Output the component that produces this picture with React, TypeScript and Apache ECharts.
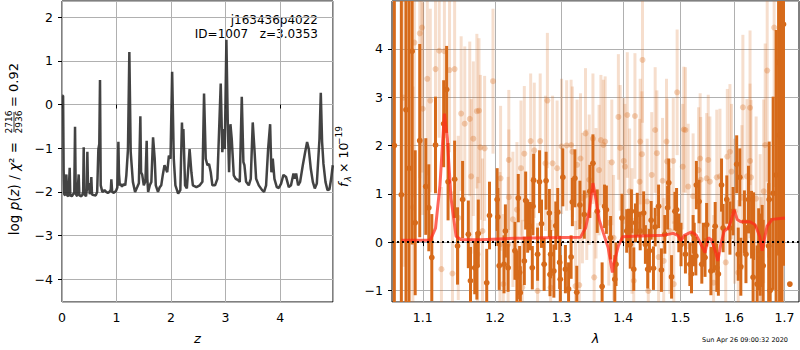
import React, { useEffect, useRef } from "react";
import * as echarts from "echarts";

const FF = '"DejaVu Sans", "Liberation Sans", sans-serif';

// ---- left panel: log p(z) ----
const zGrid = [0.004,0.02,0.03,0.04,0.06,0.08,0.095,0.12,0.141,0.152,0.18,0.2,0.225,0.239,0.252,0.28,0.306,0.318,0.34,0.37,0.388,0.398,0.41,0.44,0.455,0.465,0.478,0.49,0.51,0.525,0.538,0.55,0.58,0.62,0.645,0.667,0.684,0.697,0.71,0.74,0.78,0.81,0.84,0.87,0.895,0.905,0.92,0.95,0.99,1.015,1.034,1.045,1.06,1.08,1.1,1.13,1.16,1.18,1.21,1.235,1.26,1.3,1.34,1.38,1.41,1.437,1.45,1.47,1.5,1.53,1.553,1.565,1.58,1.61,1.639,1.67,1.7,1.72,1.76,1.79,1.82,1.85,1.88,1.93,1.96,1.99,2.02,2.05,2.08,2.13,2.17,2.2,2.212,2.226,2.257,2.29,2.34,2.373,2.4,2.465,2.526,2.575,2.605,2.636,2.667,2.697,2.728,2.758,2.807,2.85,2.88,2.911,2.94,2.966,2.985,3.015,3.04,3.064,3.089,3.113,3.15,3.187,3.23,3.26,3.297,3.327,3.346,3.376,3.425,3.462,3.498,3.529,3.56,3.609,3.67,3.706,3.743,3.78,3.817,3.84,3.865,3.896,3.939,3.976,4.018,4.061,4.11,4.159,4.2,4.245,4.27,4.294,4.33,4.367,4.416,4.459,4.495,4.526,4.563,4.6,4.636,4.673,4.722,4.746,4.77,4.795,4.832,4.869,4.905,4.936,4.966];
const logPz = [0.2,0.2,-1.5,-2.05,-2.08,-1.6,-2.08,-2.1,-1.45,-2.08,-2.1,-2.06,-2.02,-0.51,-2.05,-2.1,-1.6,-2.06,-2.1,-2.08,-2.0,-0.98,-2.05,-2.1,-1.95,-1.08,-1.95,-1.8,-2.05,-2.0,-1.66,-2.06,-2.07,-2.08,-2.0,-1.02,-0.9,0.56,-1.85,-2.0,-1.96,-2.0,-2.02,-2.0,-1.95,-1.71,-2.0,-2.02,-1.98,-1.9,-0.85,-1.58,-1.85,-1.82,-1.88,-1.82,-1.85,-1.62,-1.02,1.2,-1.09,-1.77,-2.0,-1.89,-1.8,-0.27,-1.55,-1.6,-1.85,-1.75,-0.83,-1.7,-2.0,-1.85,-1.77,-0.75,-1.24,-1.85,-2.0,-1.9,-1.85,-1.6,-1.39,-1.55,-1.17,-1.24,0.75,-1.24,-1.85,-2.04,-1.96,-0.41,-0.9,-0.56,-1.85,-1.92,-1.02,-1.55,-1.85,-1.89,-1.85,-1.77,0.25,-1.24,-1.39,-1.36,-1.55,-1.85,-1.85,-1.7,-0.64,0.48,-1.09,-0.56,-1.02,1.48,-0.41,-1.55,-0.45,-0.79,-1.62,-1.7,-1.73,-1.77,0.18,-1.32,-1.39,-1.77,-1.85,-1.7,-0.41,-1.02,-1.7,-1.85,-1.96,-2.0,-1.85,-1.02,-0.45,-1.55,-1.24,-1.7,-1.89,-1.91,-1.81,-1.61,-1.66,-1.89,-1.85,-1.58,-1.7,-1.58,-1.85,-1.77,-1.39,-1.09,-0.86,-1.02,-1.47,-1.77,-1.92,-1.81,-0.79,0.27,-0.86,-1.36,-1.77,-1.96,-1.94,-1.7,-1.39];

// ---- right panel: spectrum ----
const lamTicks = [1.1, 1.2, 1.3, 1.4, 1.5, 1.6, 1.7];
const lamMin = 1.06;
const lamMax = 1.73;

const darkLam = [1.063,1.072,1.078,1.082,1.086,1.09,1.096,1.104,1.108,1.112,1.117,1.128,1.132,1.134,1.143,1.147,1.154,1.162,1.165,1.174,1.176,1.188,1.192,1.203,1.204,1.213,1.229,1.236,1.237,1.245,1.248,1.252,1.256,1.263,1.266,1.269,1.273,1.276,1.283,1.288,1.294,1.297,1.302,1.306,1.311,1.317,1.321,1.324,1.329,1.336,1.345,1.35,1.357,1.365,1.369,1.372,1.379,1.386,1.388,1.398,1.406,1.409,1.412,1.418,1.421,1.424,1.429,1.435,1.438,1.445,1.448,1.452,1.455,1.466,1.472,1.477,1.479,1.484,1.49,1.493,1.497,1.501,1.509,1.517,1.52,1.525,1.528,1.529,1.534,1.539,1.542,1.545,1.548,1.556,1.561,1.564,1.57,1.576,1.579,1.592,1.598,1.605,1.608,1.611,1.613,1.62,1.623,1.628,1.637,1.638,1.645,1.648,1.655,1.657,1.668,1.671,1.677,1.683,1.688,1.69,1.695,1.698,1.711,
  1.171,1.206,1.215,1.219,1.232,1.234,1.243,1.255,1.257,1.281,1.282,1.291,1.298,1.315,1.414,1.442,1.461,1.523,1.567,1.586,1.634,1.651,1.669];
const darkFlux = [2.0,0.98,2.74,1.53,3.95,0.4,2.1,1.15,0.71,-0.32,2.01,2.45,3.16,1.25,1.3,-0.08,0.88,0.16,-0.8,-0.49,0.18,-0.84,0.55,0.88,0.52,-0.46,-0.18,-0.63,-1.05,0.86,0.33,0.33,0.74,-0.25,1.25,0.38,-0.46,1.27,-0.25,-0.6,0.62,-0.42,1.34,-0.56,-0.97,0.83,1.32,-1.04,0.77,0.57,1.05,1.63,0.64,-0.92,0.74,0.67,0.09,-0.77,-0.46,0.5,0.23,0.29,-0.05,-0.56,0.4,0.57,0.23,0.6,-0.05,-0.18,0.45,-0.54,0.31,-0.58,0.16,0.71,1.23,-0.72,0.64,0.67,0.19,-0.05,-0.25,-0.46,-0.66,-0.05,-0.29,1.18,0.84,-0.46,-0.05,-0.32,0.36,-0.6,-0.18,0.33,-0.66,1.18,0.29,0.29,0.64,1.61,-0.25,1.34,-0.51,0.42,-0.25,0.88,-0.73,0.33,-0.87,-0.15,-0.08,-0.49,-0.08,-1.0,1.01,1.39,3.72,2.21,2.2,4.51,-0.87,
  -0.53,-0.49,0.23,-0.53,-0.73,0.91,-0.39,-0.53,1.28,0.6,-0.67,0.34,-0.77,-0.31,0.64,-0.56,0.74,0.16,-0.53,0.88,0.36,-0.26,0.88];
const darkErr = [8,6,5,6,4,1.5,2.0,1.0,0.9,0.9,1.0,0.9,0.9,0.8,0.8,0.8,0.8,0.7,0.7,0.7,0.7,0.7,0.7,0.65,0.6,0.6,0.6,0.55,0.55,0.6,0.55,0.5,0.6,0.55,0.65,0.5,0.55,0.6,0.5,0.55,0.5,0.55,0.6,0.5,0.55,0.5,0.6,0.55,0.5,0.5,0.55,0.6,0.45,0.5,0.45,0.5,0.45,0.5,0.45,0.5,0.45,0.4,0.5,0.45,0.4,0.45,0.4,0.45,0.4,0.45,0.4,0.45,0.4,0.45,0.4,0.45,0.5,0.45,0.4,0.45,0.4,0.45,0.4,0.45,0.4,0.45,0.4,0.5,0.45,0.4,0.45,0.4,0.45,0.5,0.45,0.5,0.45,0.55,0.5,0.55,0.5,0.6,0.55,0.6,0.6,0.65,0.6,0.7,0.75,0.7,0.8,0.85,0.85,0.95,1.3,1.5,2.0,3.0,4.0,4.0,5.0,5.0,0,
  0.55,0.5,0.55,0.5,0.55,0.5,0.5,0.45,0.55,0.5,0.45,0.5,0.5,0.45,0.45,0.4,0.45,0.4,0.5,0.5,0.7,0.85,1.2];

const paleLam = [1.075,1.089,1.096,1.099,1.106,1.11,1.117,1.122,1.129,1.136,1.14,1.143,1.148,1.152,1.157,1.164,1.166,1.169,1.175,1.177,1.179,1.182,1.185,1.197,1.207,1.208,1.219,1.22,1.226,1.232,1.238,1.243,1.258,1.263,1.267,1.278,1.283,1.286,1.293,1.315,1.317,1.328,1.33,1.333,1.338,1.34,1.344,1.35,1.352,1.355,1.36,1.363,1.367,1.376,1.381,1.384,1.392,1.395,1.401,1.403,1.411,1.415,1.418,1.42,1.428,1.432,1.433,1.441,1.443,1.449,1.458,1.461,1.468,1.47,1.475,1.481,1.487,1.488,1.494,1.504,1.506,1.514,1.523,1.533,1.537,1.551,1.554,1.561,1.567,1.573,1.584,1.587,1.595,1.601,1.608,1.615,1.617,1.625,1.631,1.633,1.643,1.651,1.653,1.658,1.661,1.665,1.679,1.691,
  1.407,1.455,1.509,1.548,1.592,1.631,1.37,1.308,1.429,1.476,1.536,1.1,1.174,1.125,1.087,1.22,1.2525,1.275,1.3,1.322,1.212,1.24,1.3245];
const paleFlux = [2.99,4.13,4.32,4.44,3.38,2.93,3.58,3.96,3.95,3.56,-0.65,3.58,0.5,2.66,2.45,2.55,1.36,2.14,-0.25,2.72,1.96,0.23,1.94,3.33,-0.05,1.32,-0.05,0.93,0.47,0.67,1.53,1.83,1.9,-1.01,2.09,2.93,-0.94,1.63,1.53,2.01,1.87,-0.89,1.73,0.91,2.25,0.98,1.29,2.14,-0.73,1.01,1.49,2.11,2.01,0.4,1.65,0.09,2.59,1.95,1.68,1.56,1.05,0.23,-0.8,2.61,1.25,1.82,3.77,0.84,-1.01,1.39,1.84,-0.31,1.27,-0.39,2.08,0.23,1.68,-0.87,3.1,1.56,2.33,1.15,0.95,1.49,1.29,1.7,1.25,-0.84,1.34,1.36,-0.42,1.77,1.46,0.64,-0.63,0.92,2.79,1.36,1.68,1.34,0.9,0.02,-0.87,1.05,2.01,3.55,4.44,3.65,
  2.63,2.32,2.32,1.32,1.87,2.78,2.08,2.0,2.08,1.67,1.73,2.76,2.71,-0.56,0.72,1.7,2.09,1.63,1.98,-0.91,-0.87,-0.94,1.6];
const paleErr = [3.5,3.2,3.0,3.0,2.0,1.9,1.9,1.8,1.8,1.7,1.7,1.7,1.7,1.6,1.6,1.6,1.6,1.6,1.6,1.5,1.5,1.5,1.5,1.5,1.5,1.5,1.4,1.4,1.4,1.4,1.4,1.4,1.4,1.4,1.4,1.4,1.4,1.4,1.4,1.35,1.35,1.35,1.35,1.35,1.35,1.35,1.35,1.35,1.35,1.35,1.35,1.35,1.35,1.3,1.3,1.3,1.3,1.3,1.3,1.3,1.3,1.3,1.3,1.3,1.3,1.3,1.3,1.3,1.3,1.3,1.3,1.3,1.3,1.3,1.3,1.3,1.3,1.3,1.3,1.3,1.3,1.3,1.3,1.3,1.3,1.35,1.35,1.4,1.4,1.4,1.4,1.4,1.4,1.5,1.5,1.5,1.5,1.6,1.6,1.6,1.7,1.8,1.8,1.9,2.1,2.3,3.3,4.3,
  1.3,1.3,1.3,1.35,1.4,1.6,1.35,1.35,1.3,1.3,1.35,2.2,1.6,1.7,2.5,1.45,1.4,1.4,1.4,1.35,1.45,1.4,1.35];

const modelLam = [1.072,1.11,1.117,1.123,1.129,1.133,1.138,1.145,1.152,1.18,1.228,1.278,1.33,1.338,1.344,1.35,1.355,1.36,1.367,1.375,1.382,1.384,1.392,1.399,1.418,1.47,1.487,1.495,1.501,1.507,1.52,1.529,1.539,1.545,1.551,1.557,1.564,1.569,1.574,1.581,1.589,1.595,1.6,1.606,1.613,1.631,1.641,1.65,1.655,1.659,1.665,1.675,1.701];
const modelFlux = [0.04,0.04,0.29,1.18,2.66,2.14,0.91,0.12,0.05,0.05,0.08,0.09,0.1,0.29,0.64,1.22,0.88,0.47,0.19,-0.12,-0.63,-0.46,-0.08,0.11,0.12,0.14,0.18,0.14,0.03,0.14,0.21,0.14,-0.08,-0.22,0.09,0.05,-0.18,-0.39,-0.08,0.23,0.29,0.47,0.67,0.47,0.42,0.42,0.36,0.12,-0.18,0.05,0.33,0.47,0.5];

const ORANGE = "#d66a1a";

const minusFmt = (v: number) => (v < 0 ? "\u2212" + Math.abs(v) : String(v));

function errRender(opacityBar: number, opacityDot: number, r: number) {
  return (params: any, api: any) => {
    const x = api.value(0);
    const y = api.value(1);
    const e = api.value(2);
    const c = api.coord([x, y]);
    const t = api.coord([x, y + e]);
    const b = api.coord([x, y - e]);
    return {
      type: "group",
      children: [
        {
          type: "line",
          shape: { x1: c[0], y1: t[1], x2: c[0], y2: b[1] },
          style: { stroke: ORANGE, lineWidth: 3, opacity: opacityBar },
        },
        {
          type: "circle",
          shape: { cx: c[0], cy: c[1], r },
          style: { fill: ORANGE, opacity: opacityDot },
        },
      ],
    };
  };
}

export default function App() {
  const ref = useRef<HTMLDivElement>(null);
  useEffect(() => {
    if (!ref.current) return;
    const chart = echarts.init(ref.current, undefined, { renderer: "svg" });
    const axisLabel = { color: "#000", fontSize: 12.5, fontFamily: FF };
    const tick = { show: true, length: 4, lineStyle: { color: "#000", width: 1 } };
    const split = { show: true, lineStyle: { color: "#b0b0b0", width: 1 } };
    const lnTicks = lamTicks.map((l) => Math.log(l));
    const option: any = {
      animation: false,
      backgroundColor: "#fff",
      grid: [
        { left: 62, top: 1, width: 271, height: 303, show: true, borderColor: "#000", borderWidth: 1, backgroundColor: "transparent" },
        { left: 392, top: 1, width: 407, height: 303, show: true, borderColor: "#000", borderWidth: 1, backgroundColor: "transparent" },
      ],
      xAxis: [
        {
          gridIndex: 0, type: "value", min: 0, max: 4.97,
          name: "z", nameLocation: "middle", nameGap: 30,
          nameTextStyle: { color: "#000", fontSize: 13, fontStyle: "italic", fontFamily: FF },
          axisLine: { show: false }, axisTick: tick, splitLine: split,
          axisLabel: { ...axisLabel, margin: 9, showMaxLabel: false, formatter: minusFmt },
        },
        {
          gridIndex: 1, type: "value", min: Math.log(lamMin), max: Math.log(lamMax),
          name: "λ", nameLocation: "middle", nameGap: 30,
          nameTextStyle: { color: "#000", fontSize: 13, fontStyle: "italic", fontFamily: FF },
          axisLine: { show: false },
          axisTick: { ...tick, customValues: lnTicks },
          splitLine: split,
          axisLabel: { ...axisLabel, margin: 9, customValues: lnTicks, formatter: (v: number) => Math.exp(v).toFixed(1) },
        },
      ],
      yAxis: [
        {
          gridIndex: 0, type: "value", min: -4.52, max: 2.37,
          axisLine: { show: false }, axisTick: tick, splitLine: split,
          axisLabel: { ...axisLabel, margin: 9, showMinLabel: false, showMaxLabel: false, formatter: minusFmt },
        },
        {
          gridIndex: 1, type: "value", min: -1.24, max: 4.99,
          axisLine: { show: false }, axisTick: tick, splitLine: split,
          axisLabel: { ...axisLabel, margin: 9, showMinLabel: false, showMaxLabel: false, formatter: minusFmt },
        },
      ],
      series: [
        {
          type: "line", xAxisIndex: 0, yAxisIndex: 0,
          data: zGrid.map((z, i) => [z, logPz[i]]),
          symbol: "none", showSymbol: false,
          lineStyle: { color: "#333333", width: 2.5, opacity: 0.92 },
        },
        {
          type: "custom", xAxisIndex: 1, yAxisIndex: 1, clip: true,
          encode: { x: 0, y: 1 },
          data: paleLam.map((l, i) => [Math.log(l), paleFlux[i], paleErr[i]]),
          renderItem: errRender(0.22, 0.3, 3),
        },
        {
          type: "custom", xAxisIndex: 1, yAxisIndex: 1, clip: true,
          encode: { x: 0, y: 1 },
          data: darkLam.map((l, i) => [Math.log(l), darkFlux[i], darkErr[i]]),
          renderItem: errRender(1, 1, 2.9),
        },
        {
          type: "line", xAxisIndex: 1, yAxisIndex: 1,
          data: modelLam.map((l, i) => [Math.log(l), modelFlux[i]]),
          symbol: "none", showSymbol: false,
          lineStyle: { color: "#ff2a1a", width: 3, opacity: 0.72 },
          markLine: {
            silent: true, symbol: ["none", "none"],
            label: { show: false },
            lineStyle: { color: "#000", width: 2, type: [2, 3], opacity: 1 },
            data: [{ yAxis: 0 }],
          },
        },
      ],
      graphic: [
        {
          type: "text", right: 800 - 318, top: 14,
          style: { text: "j163436p4022", fill: "#000", font: `12px ${FF}`, textAlign: "right" },
        },
        {
          type: "text", right: 800 - 318, top: 28,
          style: { text: "ID=1007   z=3.0353", fill: "#000", font: `12px ${FF}`, textAlign: "right" },
        },
        {
          type: "text", right: 12, top: 336,
          style: { text: "Sun Apr 26 09:00:32 2020", fill: "#000", font: `6.5px ${FF}` },
        },
        {
          type: "group", x: 13.5, y: 238, rotation: Math.PI / 2,
          children: [
            {
              type: "text", x: 96, y: 0,
              style: {
                text: "{r|log }{i|p}{r|(}{i|z}{r|) / }{i|χ}{r|² =}",
                rich: {
                  r: { fontSize: 13.5, fontFamily: FF, fill: "#000", color: "#000" },
                  i: { fontSize: 13.5, fontFamily: FF, fontStyle: "italic", fill: "#000", color: "#000" },
                },
                fill: "#000", align: "right", verticalAlign: "middle", textAlign: "right", textVerticalAlign: "middle",
              },
            },
            {
              type: "text", x: 116, y: -4.5,
              style: { text: "2716", font: `9px ${FF}`, fill: "#000", align: "center", verticalAlign: "middle", textAlign: "center", textVerticalAlign: "middle" },
            },
            {
              type: "text", x: 116, y: 5,
              style: { text: "2936", font: `9px ${FF}`, fill: "#000", align: "center", verticalAlign: "middle", textAlign: "center", textVerticalAlign: "middle" },
            },
            {
              type: "line", shape: { x1: 106, y1: 0.5, x2: 126, y2: 0.5 },
              style: { stroke: "#000", lineWidth: 0.8 },
            },
            {
              type: "text", x: 131, y: 0,
              style: { text: "= 0.92", font: `13px ${FF}`, fill: "#000", align: "left", verticalAlign: "middle", textAlign: "left", textVerticalAlign: "middle" },
            },
          ],
        },
        {
          type: "group", x: 343.5, y: 187, rotation: Math.PI / 2,
          children: [
            {
              type: "text", x: 0, y: 0,
              style: { text: "f", font: `italic 12.5px ${FF}`, fill: "#000", align: "left", verticalAlign: "middle", textAlign: "left", textVerticalAlign: "middle" },
            },
            {
              type: "text", x: 5.5, y: 4.5,
              style: { text: "λ", font: `italic 9px ${FF}`, fill: "#000", align: "left", verticalAlign: "middle", textAlign: "left", textVerticalAlign: "middle" },
            },
            {
              type: "text", x: 14, y: 0,
              style: { text: "× 10", font: `12.5px ${FF}`, fill: "#000", align: "left", verticalAlign: "middle", textAlign: "left", textVerticalAlign: "middle" },
            },
            {
              type: "text", x: 42, y: -5,
              style: { text: "\u221219", font: `9px ${FF}`, fill: "#000", align: "left", verticalAlign: "middle", textAlign: "left", textVerticalAlign: "middle" },
            },
          ],
        },
      ],
    };
    chart.setOption(option);
    return () => chart.dispose();
  }, []);
  return (
    <div
      ref={ref}
      style={{ position: "absolute", left: 0, top: 0, width: 800, height: 350 }}
    />
  );
}
